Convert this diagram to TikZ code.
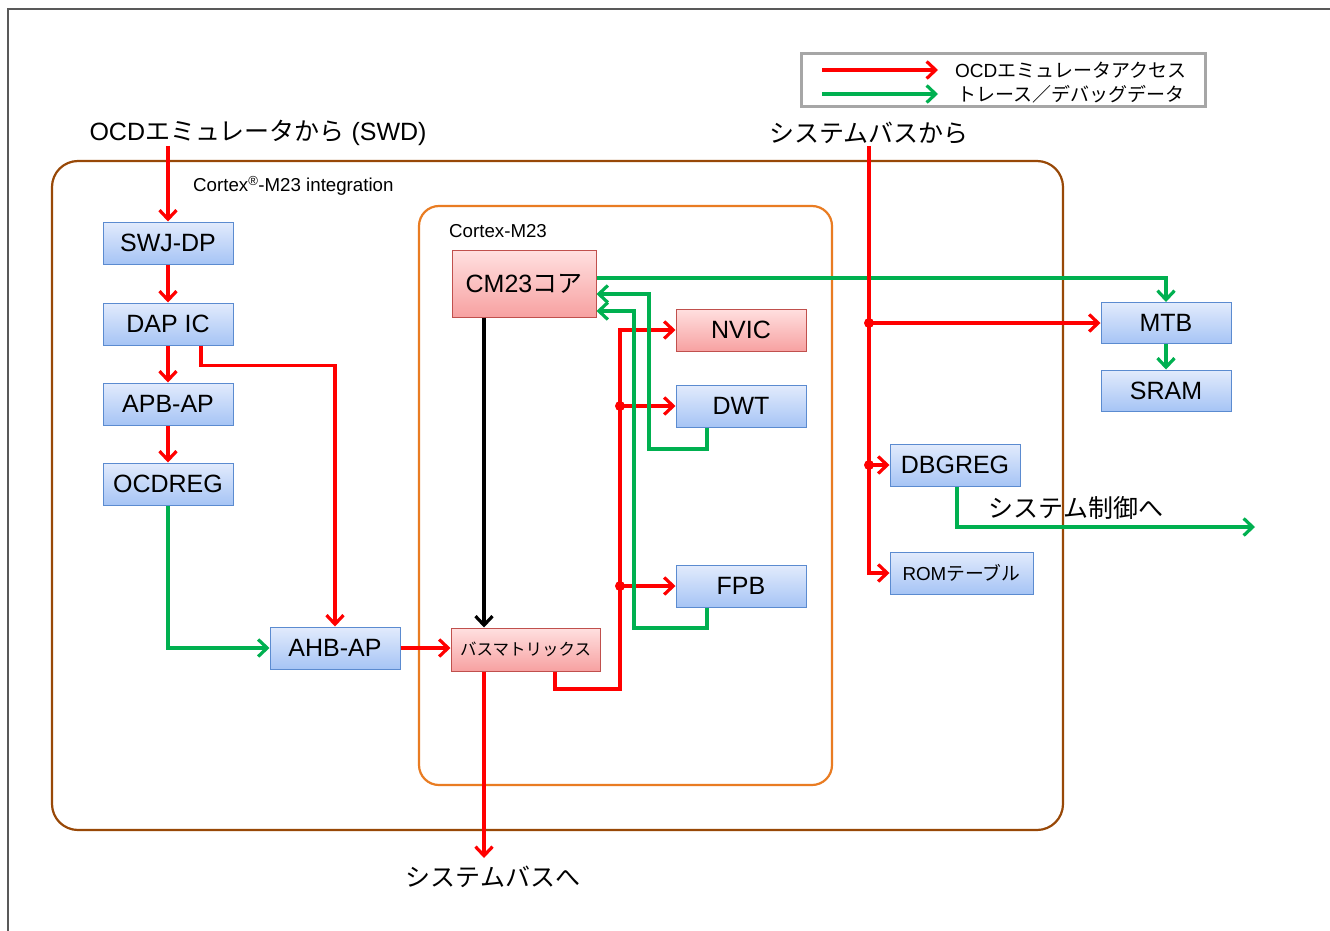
\documentclass[tikz,border=0pt]{standalone}
\usepackage{fontspec}
\setmainfont{Liberation Sans}
\newfontfamily\jp{Noto Sans CJK JP}
\usetikzlibrary{arrows.meta,calc}
\definecolor{myred}{HTML}{FF0000}
\definecolor{mygreen}{HTML}{00B050}
\definecolor{mybrown}{HTML}{984807}
\definecolor{myorange}{HTML}{E97C22}
\definecolor{blueedge}{HTML}{5B8BD0}
\definecolor{bluetop}{HTML}{E2EBFC}
\definecolor{bluebot}{HTML}{A6C4F5}
\definecolor{rededge}{HTML}{C0504D}
\definecolor{redtop}{HTML}{FFE0E0}
\definecolor{redbot}{HTML}{F7A1A1}
\definecolor{framegray}{HTML}{595959}
\definecolor{leggray}{HTML}{A6A6A6}
\tikzset{
  bbox/.style={draw=blueedge,line width=1pt,top color=bluetop,bottom color=bluebot,
    minimum width=130pt,minimum height=42pt,inner sep=0pt,font=\fontsize{25}{29}\selectfont},
  rbox/.style={draw=rededge,line width=1pt,top color=redtop,bottom color=redbot,
    minimum width=130pt,minimum height=42pt,inner sep=0pt,font=\fontsize{25}{29}\selectfont},
  tip/.style={-{Straight Barb[length=9pt,width=17pt,line width=3.2pt]}},
  redar/.style={draw=myred,line width=3.4pt,tip},
  greenar/.style={draw=mygreen,line width=3.4pt,tip},
  blackar/.style={draw=black,line width=3.2pt,tip},
  dot/.style={fill=myred},
  bigtxt/.style={inner sep=0pt,font=\fontsize{25}{29}\selectfont},
  midtxt/.style={inner sep=0pt,font=\fontsize{18.7}{22}\selectfont},
  legtxt/.style={inner sep=0pt,font=\fontsize{19}{22}\selectfont},
}
\begin{document}
\begin{tikzpicture}[x=1pt,y=-1pt]
\useasboundingbox (0,0) rectangle (1330,931);
\fill[white] (0,0) rectangle (1330,931);
% outer frame
\draw[framegray,line width=1.5pt] (8,931) -- (8,9) -- (1330,9);
% legend
\draw[leggray,line width=3pt] (801,54) rectangle (1205,107);
\coordinate (l1s) at (822,70); \coordinate (l1e) at (938,70);
\coordinate (l2s) at (822,94); \coordinate (l2e) at (938,94);
\draw[redar] (l1s) -- (l1e);
\draw[greenar] (l2s) -- (l2e);
\node[legtxt,anchor=west] (lt1) at (955,70) {OCD{\jp エミュレータアクセス}};
\node[legtxt,anchor=west] (lt2) at (957,94) {{\jp トレース／デバッグデータ}};
% containers
\draw[mybrown,line width=2.2pt,rounded corners=26pt] (52,161) rectangle (1063,830);
\draw[myorange,line width=2.2pt,rounded corners=20pt] (419,206) rectangle (832,785);
\node[midtxt,anchor=west] (t1) at (193,186) {Cortex\textsuperscript{®}-M23 integration};
\node[midtxt,anchor=west] (t2) at (449,231) {Cortex-M23};
% external texts
\node[bigtxt] (ocdtxt) at (258,133) {OCD{\jp エミュレータから} (SWD)};
\node[bigtxt] (sysin) at (869,133) {{\jp システムバスから}};
\node[bigtxt] (sysout) at (493,877) {{\jp システムバスへ}};
\node[bigtxt] (ctrl) at (1076,508) {{\jp システム制御へ}};
% boxes
\node[bbox] (swj) at (168,243) {SWJ-DP};
\node[bbox] (dap) at (168,324) {DAP IC};
\node[bbox] (apb) at (168,404) {APB-AP};
\node[bbox] (ocdreg) at (168,484) {OCDREG};
\node[bbox] (ahb) at (335,648) {AHB-AP};
\node[rbox,minimum width=144pt,minimum height=67pt] (cm23) at (524,283.5) {CM23{\jp コア}};
\node[rbox,minimum width=149pt,minimum height=43pt,font=\fontsize{16.5}{19}\selectfont] (bus) at (525.5,649.5) {{\jp バスマトリックス}};
\node[rbox] (nvic) at (741,330) {NVIC};
\node[bbox] (dwt) at (741,406) {DWT};
\node[bbox] (fpb) at (741,586) {FPB};
\node[bbox,minimum height=41pt] (mtb) at (1166,323) {MTB};
\node[bbox,minimum height=41pt] (sram) at (1166,390.5) {SRAM};
\node[bbox] (dbg) at (955,465) {DBGREG};
\node[bbox,minimum width=143pt,font=\fontsize{18.8}{22}\selectfont] (rom) at (961.5,573) {ROM{\jp テーブル}};
% helper coordinates
\coordinate (busout) at (484,858);
\coordinate (rj) at (620,689);
\coordinate (g1) at (649,449);
\coordinate (g2) at (634,628);
\coordinate (ctrlend) at (1255,527);
% left column
\draw[redar] (swj.north |- ocdtxt.south) -- (swj.north);
\draw[redar] (swj.south) -- (dap.north);
\draw[redar] (dap.south) -- (apb.north);
\draw[redar] (apb.south) -- (ocdreg.north);
\draw[redar] ([xshift=33pt]dap.south) -- ++(0,20) -| (ahb.north);
\draw[greenar] (ocdreg.south) |- (ahb.west);
\draw[redar] (ahb.east) -- (ahb.east -| bus.west);
% core
\draw[blackar] ([xshift=-40pt]cm23.south) -- ([xshift=-40pt]cm23.south |- bus.north);
\draw[redar] ([xshift=-41.5pt]bus.south) -- (busout);
\draw[redar] ([xshift=29.5pt]bus.south) |- (rj) |- (nvic.west);
\fill[dot] (rj |- dwt.west) circle (5);
\fill[dot] (rj |- fpb.west) circle (5);
\draw[redar] (rj |- dwt.west) -- (dwt.west);
\draw[redar] (rj |- fpb.west) -- (fpb.west);
\draw[greenar] ([xshift=-34pt]dwt.south) |- (g1) |- ([yshift=-10.5pt]cm23.east);
\draw[greenar] ([xshift=-34pt]fpb.south) |- (g2) |- ([yshift=-27.5pt]cm23.east);
\draw[greenar] ([yshift=5.5pt]cm23.east) -| (mtb.north);
\draw[greenar] (mtb.south) -- (sram.north);
% system bus
\draw[redar] ([yshift=-2pt]sysin.south) |- (rom.west);
\fill[dot] (sysin.south |- mtb.west) circle (5);
\fill[dot] (sysin.south |- dbg.west) circle (5);
\draw[redar] (sysin.south |- mtb.west) -- (mtb.west);
\draw[redar] (sysin.south |- dbg.west) -- (dbg.west);
\draw[greenar] ([xshift=2pt]dbg.south) |- (ctrlend);
\end{tikzpicture}
\end{document}
